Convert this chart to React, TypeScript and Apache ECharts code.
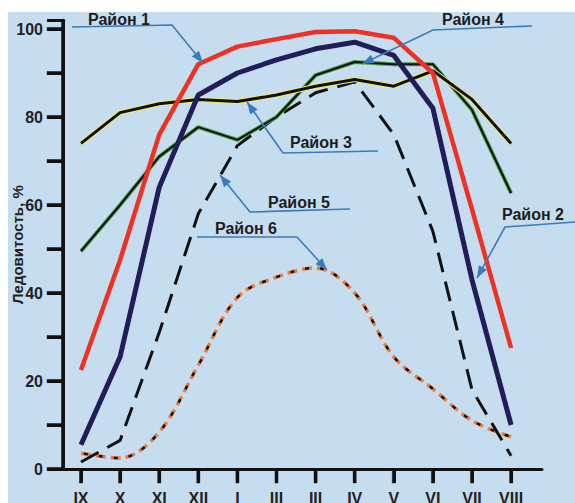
import React, { useEffect, useRef } from 'react';
import * as echarts from 'echarts';

// ---- data ----
const months = ['IX', 'X', 'XI', 'XII', 'I', 'III', 'III', 'IV', 'V', 'VI', 'VII', 'VIII'];
const yTickValues = [0, 10, 20, 30, 40, 50, 60, 70, 80, 90, 100];
const yLabelStep = 20;
const region1 = [22.5, 47.5, 76, 92, 96, 97.7, 99.3, 99.5, 98, 90, 59, 27.5];
const region2 = [5.5, 25.5, 64, 85, 90, 93, 95.5, 97, 94, 82, 43, 10];
const region3 = [74, 81, 83, 84, 83.5, 85, 87, 88.5, 87, 90.5, 84, 74];
const region4 = [49.5, 60, 71, 77.7, 74.8, 80, 89.5, 92.5, 92, 92, 81.6, 62.7];
const region5 = [1.6, 6.5, 31, 58, 73.5, 80, 85.5, 88, 76, 54, 18, 3];
const region6 = [3.6, 2.5, 8.4, 23.6, 39, 43.6, 45.7, 40, 25.5, 18.2, 11, 7.3];
const labels = ['Район 1', 'Район 2', 'Район 3', 'Район 4', 'Район 5', 'Район 6'];

const X_MIN = -0.46;
const X_MAX = 11.79;
const Y_MAX = 102;

const W = 567;
const H = 491;
const OX = 8;
const OY = 12;
const G_LEFT = 55;
const G_RIGHT = 33;
const G_TOP = 8.2;
const G_BOTTOM = 34;
const FONT = '"Liberation Sans", Arial, Helvetica, sans-serif';
const LEADER = '#3b7bbd';
const AXIS = '#111111';

type Pt = [number, number];
const P = (x: number, y: number): Pt => [x - OX, y - OY];

function arrowHead(tip: Pt, from: Pt, len = 12, half = 4.5): Pt[] {
  const dx = tip[0] - from[0];
  const dy = tip[1] - from[1];
  const d = Math.hypot(dx, dy) || 1;
  const ux = dx / d, uy = dy / d;
  const bx = tip[0] - ux * len, by = tip[1] - uy * len;
  return [tip, [bx - uy * half, by + ux * half], [bx + uy * half, by - ux * half]];
}

function annotation(text: string, tx: number, tcy: number, pts: Pt[]) {
  const ppts = pts.map(([x, y]) => P(x, y));
  const tip = ppts[ppts.length - 1];
  const prev = ppts[ppts.length - 2];
  return [
    {
      type: 'polyline',
      shape: { points: ppts },
      style: { stroke: LEADER, lineWidth: 1.6, fill: null },
      z: 100,
    },
    {
      type: 'polygon',
      shape: { points: arrowHead(tip, prev) },
      style: { fill: LEADER },
      z: 100,
    },
    {
      type: 'text',
      x: tx - OX,
      y: tcy - OY,
      style: {
        text,
        fill: '#1c1c1c',
        font: `bold 16px ${FONT}`,
        verticalAlign: 'middle',
        align: 'left',
      },
      z: 101,
    },
  ];
}

const idx = months.map((_, i) => i);
const toData = (arr: number[]) => arr.map((v, i) => [i, v]);

// geometric pixel mapping matching the grid (used for the axis decorations)
const xPixG = (v: number) => G_LEFT + ((W - G_LEFT - G_RIGHT) * (v - X_MIN)) / (X_MAX - X_MIN);
const yPixG = (v: number) => G_TOP + (H - G_TOP - G_BOTTOM) * (1 - v / Y_MAX);

function bar(x: number, y: number, w: number, h: number) {
  return {
    type: 'polygon',
    shape: { points: [[x, y], [x + w, y], [x + w, y + h], [x, y + h]] },
    style: { fill: AXIS, stroke: AXIS, lineWidth: 0.5 },
    z: 150,
    zlevel: 0,
  };
}

export default function App() {
  const ref = useRef<HTMLDivElement>(null);
  useEffect(() => {
    if (!ref.current) return;
    const chart = echarts.init(ref.current, undefined, { renderer: 'svg' });
    const line = (name: string, data: number[], style: any, extra: any = {}) => ({
      type: 'line',
      name,
      data: toData(data),
      showSymbol: false,
      symbol: 'none',
      lineStyle: style,
      emphasis: { disabled: true },
      ...extra,
    });

    const ax = xPixG(X_MIN);
    const yTop = yPixG(Y_MAX);
    const yBot = yPixG(0);
    const axisMarks: any[] = [
      bar(ax - 1.5, yTop, 3, yBot - yTop + 1.5),
      ...yTickValues.map((v) => bar(ax - 16, yPixG(v) - 1.5, 16, 3)),
      ...idx.map((i) => bar(xPixG(i) - 1.5, yBot, 3, 14)),
    ];

    chart.setOption({
      animation: false,
      backgroundColor: '#c6ddf0',
      grid: { left: G_LEFT, right: G_RIGHT, top: G_TOP, bottom: G_BOTTOM, containLabel: false, outerBoundsMode: 'none' },
      xAxis: {
        type: 'value',
        min: X_MIN,
        max: X_MAX,
        splitLine: { show: false },
        axisLine: { show: true, onZero: false, lineStyle: { color: AXIS, width: 3 } },
        axisTick: { show: true, customValues: idx, length: 14, lineStyle: { color: AXIS, width: 3 } },
        axisLabel: {
          customValues: idx,
          formatter: (v: number) => months[Math.round(v)] ?? '',
          margin: 21,
          fontSize: 16,
          fontWeight: 'bold',
          fontFamily: FONT,
          color: '#222',
        },
      },
      yAxis: {
        type: 'value',
        min: 0,
        max: Y_MAX,
        interval: 10,
        name: 'Ледовитость, %',
        nameLocation: 'middle',
        nameGap: 38,
        nameRotate: 90,
        nameMoveOverlap: false,
        nameTextStyle: { fontSize: 15, fontWeight: 'bold', fontFamily: FONT, color: '#222' },
        splitLine: { show: false },
        axisLine: { show: true, onZero: false, lineStyle: { color: AXIS, width: 3 } },
        axisTick: { show: true, length: 16, lineStyle: { color: AXIS, width: 3 } },
        axisLabel: {
          formatter: (v: number) => (v % yLabelStep === 0 && v <= 100 ? String(v) : ''),
          margin: 20,
          fontSize: 16,
          fontWeight: 'bold',
          fontFamily: FONT,
          color: '#222',
        },
      },
      series: [
        line(labels[5] + ' o', region6, { color: '#f07a3c', width: 3.5, type: [10, 5] }, { smooth: 0.35 }),
        line(labels[5], region6, { color: '#111', width: 2.5, type: [4, 11], dashOffset: 12 }, { smooth: 0.35 }),
        line(labels[4], region5, { color: '#111', width: 3, type: [20, 10] }),
        line(labels[3] + ' o', region4, { color: '#4aa048', width: 4 }),
        line(labels[3], region4, { color: '#10140f', width: 2 }),
        line(labels[2] + ' o', region3, { color: '#f2ea72', width: 5 }),
        line(labels[2], region3, { color: '#111', width: 3 }),
        line(labels[0], region1, { color: '#ef3124', width: 4.5 }),
        line(labels[1], region2, { color: '#221d58', width: 5 }),
      ],
      graphic: [
        ...axisMarks,
        ...annotation('Район 1', 88, 19, [[72, 27], [172, 25], [203, 63]]),
        ...annotation('Район 4', 442, 19, [[532, 26], [433, 30], [362, 64]]),
        ...annotation('Район 3', 290, 142, [[378, 151], [283, 153], [247, 102]]),
        ...annotation('Район 5', 268, 202, [[350, 209], [250, 212], [220, 175]]),
        ...annotation('Район 6', 215, 228, [[197, 237], [297, 237], [327, 270]]),
        ...annotation('Район 2', 502, 214, [[575, 222], [505, 227], [477, 278]]),
      ],
    });
    return () => chart.dispose();
  }, []);
  return (
    <div
      ref={ref}
      style={{ position: 'fixed', left: OX, top: OY, width: W, height: H, background: '#c6ddf0' }}
    />
  );
}
